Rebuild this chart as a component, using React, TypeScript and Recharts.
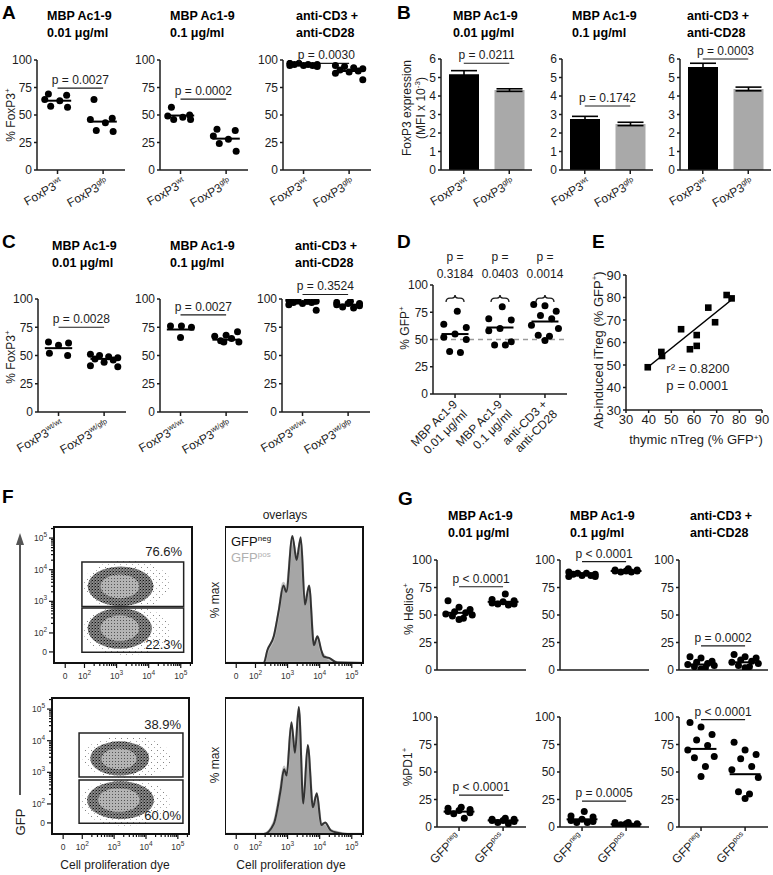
import React from 'react';
import {
  ScatterChart, Scatter, BarChart, Bar, Cell, ErrorBar, AreaChart, Area,
  XAxis, YAxis, ReferenceLine, ReferenceDot, ReferenceArea,
} from 'recharts';

const FONT = '"Liberation Sans", Arial, Helvetica, sans-serif';
const INK = '#1c1c1c';
const FS = 12;

// ---------- shared labels ----------
const CONDITIONS = [['MBP Ac1-9', '0.01 μg/ml'], ['MBP Ac1-9', '0.1 μg/ml'], ['anti-CD3 +', 'anti-CD28']];
const PCT_TICKS = [0, 25, 50, 75, 100];
const MFI_TICKS = [0, 1, 2, 3, 4, 5, 6];
const E_TICKS = [30, 40, 50, 60, 70, 80, 90];
const FOX_AB = [['FoxP3', 'wt'], ['FoxP3', 'gfp']];
const FOX_C = [['FoxP3', 'wt/wt'], ['FoxP3', 'wt/gfp']];
const GFP_NP = [['GFP', 'neg'], ['GFP', 'pos']];

// horizontal scatter of the dots inside a column
const JIT: Record<number, number[]> = {
  4: [-0.22, 0.02, 0.24, 0],
  5: [-0.22, 0.22, 0, -0.2, 0.2],
  6: [-0.2, 0.2, -0.28, 0.05, -0.15, 0.22],
  7: [0.25, 0, -0.25, 0.12, -0.12, 0.28, -0.05],
  8: [0.05, -0.25, 0.25, 0, -0.25, 0.25, -0.12, 0.12],
  9: [-0.3, -0.1, 0.1, 0.3, -0.2, 0.2, 0, -0.3, 0.3],
  10: [-0.25, 0, 0.25, -0.1, 0.15, -0.3, 0.3, -0.15, 0.1, 0],
};

// ---------- Panel A ----------
const A1_WT = [69, 68, 64, 63, 58, 57];
const A1_GFP = [64, 47, 46, 43, 36, 35];
const A2_WT = [57, 50, 49, 48, 46, 46];
const A2_GFP = [37, 36, 31, 28, 24, 17];
const A3_WT = [97, 97, 96, 96, 96, 95, 95, 95, 94];
const A3_GFP = [95, 94, 93, 92, 91, 90, 89, 88, 82];
const A_MED = [[63, 44], [49.5, 28.5], [96, 90]];
const A_P = ['p = 0.0027', 'p = 0.0002', 'p = 0.0030'];
const A_PY = [74.5, 64.5, 97];

// ---------- Panel B ----------
const B_MEAN = [[5.17, 4.32], [2.76, 2.49], [5.57, 4.38]];
const B_SEM = [[0.2, 0.07], [0.14, 0.09], [0.2, 0.1]];
const B_P = ['p = 0.0211', 'p = 0.1742', 'p = 0.0003'];
const B_PY = [5.77, 3.46, 6.0];

// ---------- Panel C ----------
const C1_WT = [62, 61, 59, 52, 50];
const C1_GFP = [51, 50, 49, 48, 47, 46, 44, 41, 40];
const C2_WT = [76, 76, 75, 66];
const C2_GFP = [71, 68, 67, 65, 63, 62, 62];
const C3_WT = [99, 99, 98, 98, 97, 97, 96, 95, 90];
const C3_GFP = [98, 97, 96, 96, 95, 94, 93, 92];
const C_MED = [[56.5, 47], [73, 64], [96, 95]];
const C_P = ['p = 0.0028', 'p = 0.0027', 'p = 0.3524'];
const C_PY = [75, 86, 104];

// ---------- Panel D ----------
const D_G1 = [76, 64, 61, 55, 52, 50, 39, 38];
const D_G2 = [80, 69, 68, 60, 58, 48, 45, 45];
const D_G3 = [82, 81, 76, 72, 69, 63, 60, 54, 53, 49];
const D_MED = [55, 61, 66.5];
const D_P = ['0.3184', '0.0403', '0.0014'];

// ---------- Panel E ----------
const E_THYMIC = [39.6, 45.6, 45.9, 54.3, 58.2, 61.2, 61.2, 66.3, 69.3, 74.4, 76.6];
const E_INDUCED = [49, 55.8, 54, 65.9, 57, 58.5, 63.3, 75.5, 69, 81.1, 79.6];
const E_FIT = [{ x: 39.6, y: 49 }, { x: 76.6, y: 79 }];

// ---------- Panel F ----------
const F_DOMAIN: [number, number] = [1.05, 5.35];
const F_MAJOR: Record<string, string> = { '1.4': '0', '2': '2', '3': '3', '4': '4', '5': '5' };
const LOG_FRAC = [0.301, 0.477, 0.602, 0.699, 0.778, 0.845, 0.903, 0.954];
const F_TICKS = [1.4, 2, 3, 4, 5, 5.301, ...[2, 3, 4].flatMap((d) => LOG_FRAC.map((f) => d + f))];

const F_TL_HALO = [{ x1: 1.95, x2: 4.7, y1: 2.75, y2: 4.3 }, { x1: 1.95, x2: 4.7, y1: 1.3, y2: 2.85 }];
const F_TL_DENSE = [{ x1: 2.1, x2: 4.15, y1: 2.85, y2: 4.1 }, { x1: 2.1, x2: 4.1, y1: 1.5, y2: 2.78 }];
const F_TL_CORE = [{ x1: 2.5, x2: 3.7, y1: 3.1, y2: 3.85 }, { x1: 2.5, x2: 3.7, y1: 1.75, y2: 2.55 }];
const F_TL_GATES = [{ x1: 1.92, x2: 5.09, y1: 2.84, y2: 4.24 }, { x1: 1.92, x2: 5.09, y1: 1.39, y2: 2.79 }];
const F_TL_PCT = [{ x: 5.04, y: 4.59, text: '76.6%' }, { x: 5.04, y: 1.65, text: '22.3%' }];

const F_BL_HALO = [{ x1: 2.0, x2: 4.8, y1: 2.8, y2: 4.15 }, { x1: 1.95, x2: 4.75, y1: 1.3, y2: 2.8 }];
const F_BL_DENSE = [{ x1: 2.25, x2: 4.1, y1: 2.9, y2: 3.98 }, { x1: 2.15, x2: 4.25, y1: 1.52, y2: 2.72 }];
const F_BL_CORE = [{ x1: 2.6, x2: 3.7, y1: 3.1, y2: 3.75 }, { x1: 2.5, x2: 3.8, y1: 1.75, y2: 2.5 }];
const F_BL_GATES = [{ x1: 1.9, x2: 5.16, y1: 2.85, y2: 4.24 }, { x1: 1.9, x2: 5.16, y1: 1.39, y2: 2.76 }];
const F_BL_PCT = [{ x: 5.1, y: 4.5, text: '38.9%' }, { x: 5.1, y: 1.65, text: '60.0%' }];

const HT_U = [1.05, 2.26, 2.37, 2.57, 2.73, 2.87, 2.96, 3.15, 3.28, 3.41, 3.54, 3.67, 3.82, 3.93, 4.05, 4.13, 4.29, 4.55, 5.35];
const HT_NEG = [0, 0, 10, 21, 42, 61, 56, 100, 81, 99, 46, 61, 14, 21, 10, 5, 4, 0.3, 0];
const HT_POS = [0, 0, 9, 20, 41, 63, 58, 97, 83, 96, 48, 59, 15, 20, 9, 6, 3, 0.5, 0];
const HB_U = [1.05, 2.26, 2.57, 2.78, 2.89, 2.97, 3.12, 3.23, 3.35, 3.49, 3.63, 3.79, 3.91, 4.05, 4.17, 4.34, 4.55, 4.86, 5.35];
const HB_NEG = [0, 0, 8, 34, 51, 46, 88, 64, 100, 24, 70, 21, 32, 7, 9, 3, 1, 0, 0];
const HB_POS = [0, 0, 9, 36, 53, 47, 85, 66, 97, 26, 67, 23, 30, 8, 8, 3, 1.5, 0, 0];

// ---------- Panel G ----------
const G1A_NEG = [63, 57, 55, 53, 52, 51, 50, 49, 47, 46];
const G1A_POS = [69, 64, 63, 62, 61, 60, 60, 59];
const G1B_NEG = [89, 88, 88, 87, 87, 86, 86, 85, 85];
const G1B_POS = [92, 91, 91, 90, 90, 90, 89, 89];
const G1C_NEG = [12, 11, 8, 7, 6, 5, 4, 3, 2, 1];
const G1C_POS = [14, 12, 11, 9, 8, 7, 6, 4, 3, 2];
const G1_MED = [[52, 62], [87, 90], [5, 7]];
const G1_P = ['p < 0.0001', 'p < 0.0001', 'p = 0.0002'];
const G1_PY = [75.7, 98.5, 22];
const G2A_NEG = [18, 17, 16, 15, 14, 13, 12, 8];
const G2A_POS = [8, 7, 7, 6, 6, 5, 4, 3];
const G2B_NEG = [14, 10, 9, 7, 6, 5, 4, 4];
const G2B_POS = [4, 4, 3, 3, 2, 2, 2, 1];
const G2C_NEG = [95, 91, 84, 79, 74, 70, 64, 63, 55, 46];
const G2C_POS = [77, 70, 66, 62, 55, 52, 45, 32, 30, 26];
const G2_MED = [[14, 6], [7, 2.5], [71, 48]];
const G2_P = ['p < 0.0001', 'p = 0.0005', 'p < 0.0001'];
const G2_PY = [29, 23.6, 97.6];

// ---------- helpers ----------
const axisStyle = { stroke: INK, strokeWidth: 1.5 };
const toPts = (vals: number[], gi: number) => {
  const j = JIT[vals.length] || [];
  return vals.map((v, i) => ({ x: gi + (j[i] ?? 0), y: v }));
};
const dotShape = (p: any) => <circle cx={p.cx} cy={p.cy} r={3.5} fill="#000" />;
const squareShape = (p: any) => <rect x={p.cx - 3.3} y={p.cy - 3.3} width={6.6} height={6.6} fill="#000" />;

const rotTick = (labels: string[][], angle: number, dx: number, dy: number) => (props: any) => {
  const { x, y, index } = props;
  const lab = labels[index] || ['', ''];
  return (
    <g transform={`translate(${x + dx},${y + dy})`}>
      <text textAnchor="end" transform={`rotate(${angle})`} fontSize={FS} fill={INK}>
        {lab[0]}
        <tspan fontSize={FS * 0.62} dy={-FS * 0.42}>{lab[1]}</tspan>
      </text>
    </g>
  );
};
const twoLineTick = (labels: string[][], angle: number, dx: number, dy: number) => (props: any) => {
  const { x, y, index } = props;
  const lab = labels[index] || ['', ''];
  return (
    <g transform={`translate(${x + dx},${y + dy})`}>
      <text textAnchor="end" transform={`rotate(${angle})`} fontSize={FS} fill={INK}>
        <tspan x={0} dy={0}>{lab[0]}</tspan>
        <tspan x={0} dy={14}>{lab[1]}</tspan>
      </text>
    </g>
  );
};
const fTickX = (props: any) => {
  const { x, y, payload } = props;
  const lab = F_MAJOR[String(payload.value)];
  const major = lab !== undefined;
  return (
    <g>
      <line x1={x} y1={y} x2={x} y2={y + (major ? 5 : 3)} stroke="#111" strokeWidth={1.2} />
      {major && (
        <text x={x} y={y + 16} textAnchor="middle" fontSize={8.5} fill="#333">
          {lab === '0' ? '0' : '10'}
          {lab !== '0' && <tspan dy={-4} fontSize={6.5}>{lab}</tspan>}
        </text>
      )}
    </g>
  );
};
const fTickY = (props: any) => {
  const { x, y, payload } = props;
  const lab = F_MAJOR[String(payload.value)];
  const major = lab !== undefined;
  return (
    <g>
      <line x1={x} y1={y} x2={x - (major ? 5 : 3)} y2={y} stroke="#111" strokeWidth={1.2} />
      {major && (
        <text x={x - 7} y={y + 3} textAnchor="end" fontSize={8.5} fill="#333">
          {lab === '0' ? '0' : '10'}
          {lab !== '0' && <tspan dy={-4} fontSize={6.5}>{lab}</tspan>}
        </text>
      )}
    </g>
  );
};
const ellipseShape = (fill: string) => (p: any) => {
  const w = Math.abs(p.width);
  const h = Math.abs(p.height);
  const x0 = Math.min(p.x, p.x + p.width);
  const y0 = Math.min(p.y, p.y + p.height);
  return <ellipse cx={x0 + w / 2} cy={y0 + h / 2} rx={w / 2} ry={h / 2} fill={fill} />;
};
const braceShape = (p: any) => {
  const { x1, x2, y1 } = p;
  const xm = (x1 + x2) / 2;
  const y = y1;
  return (
    <path
      d={`M${x1},${y + 4} Q${x1},${y} ${x1 + 4},${y} L${xm - 3},${y} Q${xm},${y} ${xm},${y - 3} Q${xm},${y} ${xm + 3},${y} L${x2 - 4},${y} Q${x2},${y} ${x2},${y + 4}`}
      fill="none" stroke={INK} strokeWidth={1.3}
    />
  );
};

const YW = 40, MT = 48, XH = 72, MR = 8;

function DotPlot(props: any) {
  const { axisX, yTop, yBottom, plotW, xDomain, xTicks, groups, medians, medHalf, pLine, tick, extra } = props;
  const width = YW + plotW + MR;
  const height = MT + (yBottom - yTop) + XH;
  return (
    <div style={{ position: 'absolute', left: axisX - YW, top: yTop - MT }}>
      <ScatterChart width={width} height={height} margin={{ top: MT, right: MR, bottom: 0, left: 0 }}>
        <XAxis type="number" dataKey="x" domain={xDomain} ticks={xTicks} allowDataOverflow interval={0}
          height={XH} tickSize={4} axisLine={axisStyle} tickLine={axisStyle} tick={tick || false} />
        <YAxis type="number" dataKey="y" domain={[0, 100]} ticks={PCT_TICKS} allowDataOverflow interval={0}
          width={YW} tickSize={3} tickMargin={2} axisLine={axisStyle} tickLine={axisStyle}
          tick={{ fontSize: FS, fill: INK }} />
        {extra}
        {groups.map((g: number[], gi: number) => (
          <Scatter key={`g${gi}`} data={toPts(g, gi)} shape={dotShape} isAnimationActive={false} />
        ))}
        {medians.map((m: number, gi: number) => (
          <ReferenceLine key={`m${gi}`} segment={[{ x: gi - medHalf, y: m }, { x: gi + medHalf, y: m }]}
            stroke="#000" strokeWidth={2} ifOverflow="visible" />
        ))}
        {pLine && (
          <ReferenceLine segment={[{ x: 0, y: pLine.y }, { x: 1, y: pLine.y }]} stroke={INK} strokeWidth={1.2}
            ifOverflow="visible"
            label={{ value: pLine.text, position: 'top', offset: 4, fontSize: FS, fill: INK }} />
        )}
      </ScatterChart>
    </div>
  );
}

function BarPlot(props: any) {
  const { axisX, yTop, yBottom, plotW, means, errs, pLine } = props;
  const data = means.map((m: number, i: number) => ({ name: FOX_AB[i][1], v: m, e: errs[i] }));
  const fills = ['#000000', '#a9a9a9'];
  return (
    <div style={{ position: 'absolute', left: axisX - YW, top: yTop - MT }}>
      <BarChart width={YW + plotW + MR} height={MT + (yBottom - yTop) + XH} data={data}
        margin={{ top: MT, right: MR, bottom: 0, left: 0 }}>
        <XAxis dataKey="name" interval={0} height={XH} tickSize={4} axisLine={axisStyle} tickLine={axisStyle}
          tick={rotTick(FOX_AB, -30, 6, 9)} />
        <YAxis type="number" domain={[0, 6]} ticks={MFI_TICKS} allowDataOverflow interval={0} width={YW}
          tickSize={3} tickMargin={2} axisLine={axisStyle} tickLine={axisStyle} tick={{ fontSize: FS, fill: INK }} />
        <Bar dataKey="v" barSize={30} isAnimationActive={false}>
          {data.map((d: any, i: number) => <Cell key={d.name} fill={fills[i]} />)}
          <ErrorBar dataKey="e" width={13} stroke="#000" strokeWidth={1.6} direction="y" />
        </Bar>
        <ReferenceLine segment={[{ x: 'wt', y: pLine.y }, { x: 'gfp', y: pLine.y }]} stroke={INK}
          strokeWidth={1.2} ifOverflow="visible"
          label={{ value: pLine.text, position: 'top', offset: 4, fontSize: FS, fill: INK }} />
      </BarChart>
    </div>
  );
}

function FlowDot(props: any) {
  const { left, top, w, h, halo, dense, core, gates, pcts } = props;
  const LW = 40, TM = 4, BH = 24, RM = 4;
  return (
    <div style={{ position: 'absolute', left: left - LW, top: top - TM }}>
      <ScatterChart width={LW + w + RM} height={TM + h + BH} margin={{ top: TM, right: RM, bottom: 0, left: 0 }}>
        <XAxis type="number" dataKey="x" domain={F_DOMAIN} ticks={F_TICKS} allowDataOverflow interval={0}
          height={BH} tickSize={0} tickMargin={0} axisLine={false} tickLine={false} tick={fTickX} />
        <YAxis type="number" dataKey="y" domain={F_DOMAIN} ticks={F_TICKS} allowDataOverflow interval={0}
          width={LW} tickSize={0} tickMargin={0} axisLine={false} tickLine={false} tick={fTickY} />
        {halo.map((c: any, i: number) => (
          <ReferenceArea key={`h${i}`} {...c} ifOverflow="visible" shape={ellipseShape('url(#spSparse)')} />
        ))}
        {dense.map((c: any, i: number) => (
          <ReferenceArea key={`d${i}`} {...c} ifOverflow="visible" shape={ellipseShape('url(#spDense)')} />
        ))}
        {core.map((c: any, i: number) => (
          <ReferenceArea key={`c${i}`} {...c} ifOverflow="visible" shape={ellipseShape('url(#spLight)')} />
        ))}
        {gates.map((g: any, i: number) => (
          <ReferenceArea key={`g${i}`} {...g} fill="none" stroke="#222" strokeWidth={1.5} ifOverflow="visible" />
        ))}
        {pcts.map((p: any, i: number) => (
          <ReferenceDot key={`p${i}`} x={p.x} y={p.y} r={0} fill="none" stroke="none" ifOverflow="visible"
            label={{ value: p.text, position: 'left', offset: 0, fontSize: 13, fill: INK }} />
        ))}
        <ReferenceArea x1={F_DOMAIN[0]} x2={F_DOMAIN[1]} y1={F_DOMAIN[0]} y2={F_DOMAIN[1]} fill="none"
          stroke="#111" strokeWidth={2} ifOverflow="visible" />
        <Scatter data={[]} isAnimationActive={false} />
      </ScatterChart>
    </div>
  );
}

function FlowHist(props: any) {
  const { left, top, w, h, u, neg, pos } = props;
  const data = u.map((x: number, i: number) => ({ u: x, neg: neg[i], pos: pos[i] }));
  const TM = 4, BH = 24, RM = 4;
  return (
    <div style={{ position: 'absolute', left, top: top - TM }}>
      <AreaChart width={w + RM} height={TM + h + BH} data={data} margin={{ top: TM, right: RM, bottom: 0, left: 0 }}>
        <XAxis type="number" dataKey="u" domain={F_DOMAIN} ticks={F_TICKS} allowDataOverflow interval={0}
          height={BH} tickSize={0} tickMargin={0} axisLine={false} tickLine={false} tick={fTickX} />
        <YAxis hide type="number" domain={[0, 107]} allowDataOverflow />
        <Area type="monotone" dataKey="pos" stroke="#c4c4c4" strokeWidth={2.5} fill="#a6a6a6" fillOpacity={1}
          isAnimationActive={false} />
        <Area type="monotone" dataKey="neg" stroke="#333" strokeWidth={2} fill="none" fillOpacity={0}
          isAnimationActive={false} />
        <ReferenceArea x1={F_DOMAIN[0]} x2={F_DOMAIN[1]} y1={0} y2={107} fill="none" stroke="#111"
          strokeWidth={2} ifOverflow="visible" />
      </AreaChart>
    </div>
  );
}

const VLabel = ({ x, y, children, size = FS }: any) => (
  <text x={x} y={y} transform={`rotate(-90 ${x} ${y})`} textAnchor="middle" dominantBaseline="central"
    fontSize={size} fill={INK}>{children}</text>
);

function Overlay() {
  const letters: [string, number, number][] = [['A', 2, 19], ['B', 397, 19], ['C', 2, 248], ['D', 397, 248],
    ['E', 592, 248], ['F', 2, 503], ['G', 398, 505]];
  const titleRows = [
    { xs: [47, 170, 296], y: 20 },
    { xs: [453, 572, 687], y: 20 },
    { xs: [52, 170, 295], y: 250 },
    { xs: [448, 570, 690], y: 520 },
  ];
  return (
    <svg width={773} height={875} style={{ position: 'absolute', left: 0, top: 0 }}>
      <defs>
        <pattern id="spDense" width="3" height="3" patternUnits="userSpaceOnUse">
          <rect width="3" height="3" fill="#8c8c8c" />
          <rect x="0" y="0" width="1" height="1" fill="#111" />
          <rect x="1.5" y="1.5" width="1" height="1" fill="#222" />
          <rect x="2" y="0.5" width="0.8" height="0.8" fill="#333" />
        </pattern>
        <pattern id="spSparse" width="6" height="6" patternUnits="userSpaceOnUse">
          <rect x="1" y="2" width="0.9" height="0.9" fill="#666" />
          <rect x="4" y="5" width="0.9" height="0.9" fill="#999" />
        </pattern>
        <pattern id="spLight" width="3" height="3" patternUnits="userSpaceOnUse">
          <rect width="3" height="3" fill="#b4b4b4" />
          <rect x="1" y="1" width="1" height="1" fill="#555" />
        </pattern>
      </defs>
      {letters.map(([t, x, y]) => (
        <text key={t} x={x} y={y} fontSize={19} fontWeight="bold" fill="#000">{t}</text>
      ))}
      {titleRows.map((r, ri) => CONDITIONS.map((c, i) => (
        <text key={`t${ri}-${i}`} x={r.xs[i]} y={r.y} fontSize={12.5} fontWeight="bold" fill="#000">
          <tspan x={r.xs[i]}>{c[0]}</tspan>
          <tspan x={r.xs[i]} dy={17}>{c[1]}</tspan>
        </text>
      )))}
      <VLabel x={11} y={115}>% FoxP3<tspan dy={-4} fontSize={8}>+</tspan></VLabel>
      <VLabel x={11} y={357}>% FoxP3<tspan dy={-4} fontSize={8}>+</tspan></VLabel>
      <VLabel x={407} y={108}>FoxP3 expression</VLabel>
      <VLabel x={421} y={108}>(MFI x 10<tspan dy={-4} fontSize={8}>-3</tspan><tspan dy={4}>)</tspan></VLabel>
      <VLabel x={405} y={328}>% GFP<tspan dy={-4} fontSize={8}>+</tspan></VLabel>
      <VLabel x={598} y={350} size={13}>Ab-induced iTreg (% GFP<tspan dy={-4} fontSize={8}>+</tspan><tspan dy={4}>)</tspan></VLabel>
      <text x={696} y={444} textAnchor="middle" fontSize={13} fill={INK}>
        thymic nTreg (% GFP<tspan dy={-4} fontSize={8}>+</tspan><tspan dy={4}>)</tspan>
      </text>
      <VLabel x={409} y={609}>% Helios<tspan dy={-4} fontSize={8}>+</tspan></VLabel>
      <VLabel x={408} y={767}>%PD1<tspan dy={-4} fontSize={8}>+</tspan></VLabel>
      {/* Panel F texts */}
      <text x={285} y={519} textAnchor="middle" fontSize={FS} fill={INK}>overlays</text>
      <text x={231} y={546} fontSize={13} fill="#111">GFP<tspan dy={-5} fontSize={8}>neg</tspan></text>
      <text x={231} y={562} fontSize={13} fill="#b0b0b0">GFP<tspan dy={-5} fontSize={8}>pos</tspan></text>
      <VLabel x={215} y={600}>% max</VLabel>
      <VLabel x={215} y={765}>% max</VLabel>
      <VLabel x={20} y={822} size={13}>GFP</VLabel>
      <line x1={20} y1={795} x2={20} y2={543} stroke="#555" strokeWidth={2} />
      <path d="M20,533 L16,545 L24,545 Z" fill="#555" />
      <text x={115} y={869} textAnchor="middle" fontSize={FS} fill={INK}>Cell proliferation dye</text>
      <text x={291} y={869} textAnchor="middle" fontSize={FS} fill={INK}>Cell proliferation dye</text>
    </svg>
  );
}

const DOM2: [number, number] = [-0.45, 1.48];
const DOMG: [number, number] = [-0.5, 1.52];

export default function App() {
  const aGroups = [[A1_WT, A1_GFP], [A2_WT, A2_GFP], [A3_WT, A3_GFP]];
  const cGroups = [[C1_WT, C1_GFP], [C2_WT, C2_GFP], [C3_WT, C3_GFP]];
  const g1Groups = [[G1A_NEG, G1A_POS], [G1B_NEG, G1B_POS], [G1C_NEG, G1C_POS]];
  const g2Groups = [[G2A_NEG, G2A_POS], [G2B_NEG, G2B_POS], [G2C_NEG, G2C_POS]];
  const acX = [37, 160, 283];
  const cX = [38, 160, 282];
  const bX = [441, 562, 680];
  const gX = [437, 560, 679];
  const ePts = E_THYMIC.map((x, i) => ({ x, y: E_INDUCED[i] }));
  const dExtra = [
    ...D_P.map((p, i) => (
      <ReferenceDot key={`dp${i}`} x={i} y={126} r={0} fill="none" stroke="none" ifOverflow="visible"
        label={{ value: 'p =', position: 'center', fontSize: FS, fill: INK }} />
    )),
    ...D_P.map((p, i) => (
      <ReferenceDot key={`dv${i}`} x={i} y={110.7} r={0} fill="none" stroke="none" ifOverflow="visible"
        label={{ value: p, position: 'center', fontSize: FS, fill: INK }} />
    )),
    ...D_P.map((p, i) => (
      <ReferenceLine key={`db${i}`} segment={[{ x: i - 0.2, y: 88 }, { x: i + 0.2, y: 88 }]} ifOverflow="visible"
        shape={braceShape} />
    )),
    <ReferenceLine key="d50" y={50} stroke="#9a9a9a" strokeDasharray="5 4" strokeWidth={1.3} />,
  ];
  return (
    <div style={{ position: 'absolute', left: 0, top: 0, width: 773, height: 875, overflow: 'hidden',
      background: '#fff', fontFamily: FONT, color: INK }}>
      <Overlay />
      {aGroups.map((g, i) => (
        <DotPlot key={`A${i}`} axisX={acX[i]} yTop={60} yBottom={170} plotW={88} xDomain={DOM2} xTicks={[0, 1]}
          groups={g} medians={A_MED[i]} medHalf={0.3} pLine={{ y: A_PY[i], text: A_P[i] }}
          tick={rotTick(FOX_AB, -30, 6, 9)} />
      ))}
      {B_MEAN.map((m, i) => (
        <BarPlot key={`B${i}`} axisX={bX[i]} yTop={59} yBottom={170} plotW={91} means={m} errs={B_SEM[i]}
          pLine={{ y: B_PY[i], text: B_P[i] }} />
      ))}
      {cGroups.map((g, i) => (
        <DotPlot key={`C${i}`} axisX={cX[i]} yTop={299} yBottom={412} plotW={88} xDomain={DOM2} xTicks={[0, 1]}
          groups={g} medians={C_MED[i]} medHalf={0.3} pLine={{ y: C_PY[i], text: C_P[i] }}
          tick={rotTick(FOX_C, -30, 6, 9)} />
      ))}
      <DotPlot axisX={433} yTop={285} yBottom={394} plotW={134} xDomain={[-0.49, 2.49]} xTicks={[0, 1, 2]}
        groups={[D_G1, D_G2, D_G3]} medians={D_MED} medHalf={0.3} tick={twoLineTick(CONDITIONS, -45, 3, 5)}
        extra={dExtra} />
      <div style={{ position: 'absolute', left: 626 - 30, top: 275 - 10 }}>
        <ScatterChart width={30 + 136 + 9} height={10 + 135 + 26} margin={{ top: 10, right: 9, bottom: 0, left: 0 }}>
          <XAxis type="number" dataKey="x" domain={[30, 90]} ticks={E_TICKS} allowDataOverflow interval={0}
            height={26} tickSize={3} axisLine={axisStyle} tickLine={axisStyle} tick={{ fontSize: 13, fill: INK }} />
          <YAxis type="number" dataKey="y" domain={[30, 90]} ticks={E_TICKS} allowDataOverflow interval={0}
            width={30} tickSize={3} tickMargin={2} axisLine={axisStyle} tickLine={axisStyle}
            tick={{ fontSize: 13, fill: INK }} />
          <ReferenceLine segment={E_FIT} stroke="#000" strokeWidth={1.6} />
          <Scatter data={ePts} shape={squareShape} isAnimationActive={false} />
          <ReferenceDot x={47.8} y={48.7} r={0} fill="none" stroke="none"
            label={{ value: 'r² = 0.8200', position: 'right', offset: 0, fontSize: 13, fill: INK }} />
          <ReferenceDot x={47.8} y={41.1} r={0} fill="none" stroke="none"
            label={{ value: 'p = 0.0001', position: 'right', offset: 0, fontSize: 13, fill: INK }} />
        </ScatterChart>
      </div>
      <FlowDot left={54} top={527} w={138} h={136} halo={F_TL_HALO} dense={F_TL_DENSE} core={F_TL_CORE}
        gates={F_TL_GATES} pcts={F_TL_PCT} />
      <FlowDot left={52} top={698} w={137} h={136} halo={F_BL_HALO} dense={F_BL_DENSE} core={F_BL_CORE}
        gates={F_BL_GATES} pcts={F_BL_PCT} />
      <FlowHist left={225} top={527} w={138} h={136} u={HT_U} neg={HT_NEG} pos={HT_POS} />
      <FlowHist left={225} top={698} w={138} h={136} u={HB_U} neg={HB_NEG} pos={HB_POS} />
      {g1Groups.map((g, i) => (
        <DotPlot key={`G1${i}`} axisX={gX[i]} yTop={560} yBottom={670} plotW={89} xDomain={DOMG} xTicks={[0, 1]}
          groups={g} medians={G1_MED[i]} medHalf={0.35} pLine={{ y: G1_PY[i], text: G1_P[i] }} />
      ))}
      {g2Groups.map((g, i) => (
        <DotPlot key={`G2${i}`} axisX={gX[i]} yTop={717} yBottom={827} plotW={89} xDomain={DOMG} xTicks={[0, 1]}
          groups={g} medians={G2_MED[i]} medHalf={0.35} pLine={{ y: G2_PY[i], text: G2_P[i] }}
          tick={rotTick(GFP_NP, -45, 2, 5)} />
      ))}
    </div>
  );
}
